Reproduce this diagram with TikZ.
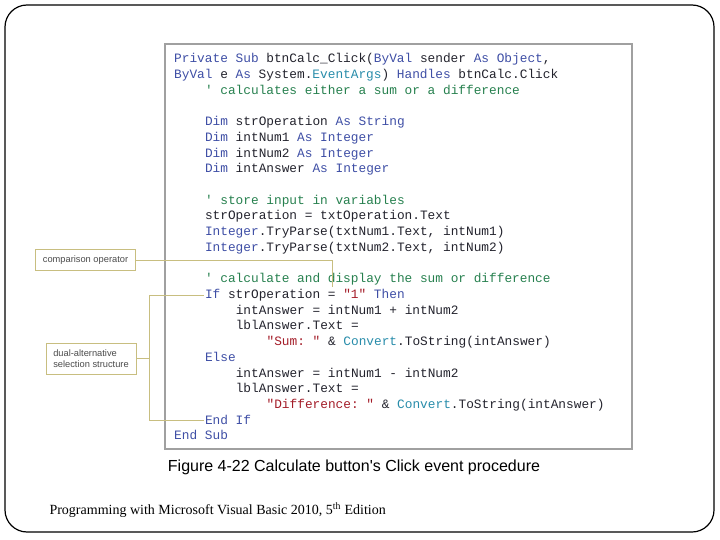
\documentclass[tikz,border=0pt]{standalone}
\usepackage{fontspec}
\usepackage{xcolor}
\usepackage{tikz}
\usetikzlibrary{positioning, calc}
\setmainfont{Liberation Serif}
\newfontfamily\codefont{Liberation Mono}
\newfontfamily\capfont{Liberation Sans}

\definecolor{vbkey}{RGB}{62,78,165}
\definecolor{vbcom}{RGB}{38,128,78}
\definecolor{vbstr}{RGB}{163,28,40}
\definecolor{vbtype}{RGB}{40,140,170}
\definecolor{vbtext}{RGB}{35,35,45}
\definecolor{calloutcol}{RGB}{200,190,128}
\definecolor{framegray}{RGB}{160,160,160}

\newcommand{\kw}[1]{\textcolor{vbkey}{#1}}
\newcommand{\cm}[1]{\textcolor{vbcom}{#1}}
\newcommand{\st}[1]{\textcolor{vbstr}{#1}}
\newcommand{\ty}[1]{\textcolor{vbtype}{#1}}
\newcommand{\q}{\textquotesingle}

\begin{document}
\begin{tikzpicture}[x=1pt, y=-1pt,
  codeline/.style={anchor=base west, inner sep=0pt, text height=9pt, text depth=2.5pt,
    font=\codefont\fontsize{12.8}{15.7}\selectfont\frenchspacing, text=vbtext},
  callbox/.style={draw=calloutcol, line width=0.8pt, fill=white, align=left,
    font=\capfont\fontsize{9.3}{11.5}\selectfont, text=black!70, inner sep=4pt},
  callout/.style={draw=calloutcol, line width=0.8pt}]
\useasboundingbox (0,0) rectangle (720,540);
% Draw slide frame
\draw[line width=1.2pt, rounded corners=22pt] (5,5) rectangle (714,532);
% Draw code window
\node[draw=framegray, line width=2.5pt, minimum width=467pt, minimum height=405pt] (window) at (398.5,246.5) {};
% Code lines
\node[codeline] (l0) at (174,63) {\kw{Private Sub} btnCalc\_Click(\kw{ByVal} sender \kw{As Object},};
\node[codeline] (l1) at (174,78.7) {\kw{ByVal} e \kw{As} System.\ty{EventArgs}) \kw{Handles} btnCalc.Click};
\node[codeline] (l2) at (204.8,94.4) {\cm{\q{} calculates either a sum or a difference}};
\node[codeline] (l4) at (204.8,125.8) {\kw{Dim} strOperation \kw{As String}};
\node[codeline] (l5) at (204.8,141.5) {\kw{Dim} intNum1 \kw{As Integer}};
\node[codeline] (l6) at (204.8,157.2) {\kw{Dim} intNum2 \kw{As Integer}};
\node[codeline] (l7) at (204.8,172.9) {\kw{Dim} intAnswer \kw{As Integer}};
\node[codeline] (l9) at (204.8,204.3) {\cm{\q{} store input in variables}};
\node[codeline] (l10) at (204.8,220) {strOperation = txtOperation.Text};
\node[codeline] (l11) at (204.8,235.7) {\kw{Integer}.TryParse(txtNum1.Text, intNum1)};
\node[codeline] (l12) at (204.8,251.4) {\kw{Integer}.TryParse(txtNum2.Text, intNum2)};
\node[codeline] (l14) at (204.8,282.8) {\cm{\q{} calculate and display the sum or difference}};
\node[codeline] (l15) at (204.8,298.5) {\kw{If} strOperation = \st{"1"} \kw{Then}};
\node[codeline] (l16) at (235.6,314.2) {intAnswer = intNum1 + intNum2};
\node[codeline] (l17) at (235.6,329.9) {lblAnswer.Text =};
\node[codeline] (l18) at (266.4,345.6) {\st{"Sum: "} \& \ty{Convert}.ToString(intAnswer)};
\node[codeline] (l19) at (204.8,361.3) {\kw{Else}};
\node[codeline] (l20) at (235.6,377) {intAnswer = intNum1 - intNum2};
\node[codeline] (l21) at (235.6,392.7) {lblAnswer.Text =};
\node[codeline] (l22) at (266.4,408.4) {\st{"Difference: "} \& \ty{Convert}.ToString(intAnswer)};
\node[codeline] (l23) at (204.8,424.1) {\kw{End If}};
\node[codeline] (l24) at (174,439.8) {\kw{End Sub}};
% Callouts
\node[callbox, minimum width=100pt, minimum height=21pt] (cmp) at (85.5,260) {comparison operator};
\node[callbox, minimum width=90pt, minimum height=31pt] (dual) at (91,358.5) {dual-alternative\\[-1pt]selection structure};
\coordinate (eqtop) at (332,287);
\draw[callout] (cmp.east) -| (eqtop);
\draw[callout] (dual.east) -- ++(13,0) coordinate (brk);
\draw[callout] ([xshift=-1pt]l15.west) -| (brk) |- ([xshift=-1pt]l23.west);
% Caption and footer
\node[font=\capfont\fontsize{16}{18}\selectfont] (caption) at (354,467) {Figure 4-22 Calculate button's Click event procedure};
\node[anchor=west, font=\fontsize{14}{16}\selectfont] (footer) at (46,510) {Programming with Microsoft Visual Basic 2010, 5\textsuperscript{th} Edition};
\end{tikzpicture}
\end{document}
